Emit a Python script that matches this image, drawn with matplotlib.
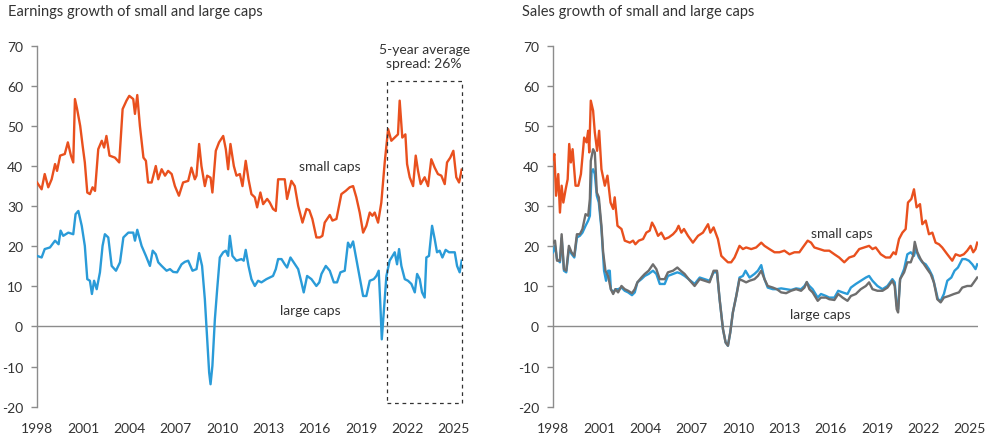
import matplotlib.pyplot as plt
import numpy as np

plt.rcParams['font.family'] = ['Lato', 'DejaVu Sans']
plt.rcParams['axes.unicode_minus'] = False

ORANGE = '#E9501E'
BLUE = '#2A9BD8'
GREY = '#6E6E6E'
TXT = '#333333'

# earnings growth (%)
earn_small_t = [1998.0, 1998.3, 1998.5, 1998.73, 1998.95, 1999.17, 1999.3, 1999.5, 1999.8, 2000.0,
                2000.2, 2000.35, 2000.46, 2000.6, 2000.8, 2000.96, 2001.1, 2001.26, 2001.43, 2001.6,
                2001.76, 2001.97, 2002.2, 2002.35, 2002.5, 2002.7, 2003.05, 2003.33, 2003.55, 2003.8,
                2003.98, 2004.24, 2004.35, 2004.5, 2004.67, 2004.9, 2005.06, 2005.2, 2005.43, 2005.7,
                2005.86, 2006.08, 2006.3, 2006.5, 2006.73, 2006.94, 2007.2, 2007.47, 2007.8, 2008.01,
                2008.23, 2008.34, 2008.51, 2008.66, 2008.88, 2009.03, 2009.25, 2009.37, 2009.59, 2009.8,
                2010.07, 2010.24, 2010.39, 2010.54, 2010.76, 2010.93, 2011.15, 2011.32, 2011.53, 2011.71,
                2011.9, 2012.12, 2012.27, 2012.48, 2012.66, 2012.92, 2013.09, 2013.3, 2013.48, 2013.63,
                2013.85, 2014.06, 2014.21, 2014.49, 2014.71, 2014.93, 2015.21, 2015.47, 2015.65, 2015.85,
                2016.11, 2016.33, 2016.5, 2016.65, 2016.98, 2017.15, 2017.41, 2017.73, 2018.01, 2018.27,
                2018.49, 2018.7, 2018.92, 2019.14, 2019.35, 2019.57, 2019.74, 2019.89, 2020.11, 2020.32,
                2020.54, 2020.76, 2020.97, 2021.19, 2021.4, 2021.51, 2021.68, 2021.88, 2021.99, 2022.16,
                2022.38, 2022.55, 2022.7, 2022.87, 2023.13, 2023.35, 2023.56, 2023.78, 2023.99, 2024.21,
                2024.43, 2024.58, 2024.79, 2024.99, 2025.18, 2025.36, 2025.53]
earn_small = [35.9, 34.2, 38.0, 34.7, 36.7, 40.5, 38.8, 42.6, 43.0, 45.9,
              42.6, 40.9, 56.7, 54.2, 50.0, 45.0, 40.9, 33.4, 33.0, 34.7,
              33.8, 44.2, 46.3, 44.6, 47.5, 42.6, 42.1, 40.9, 54.2, 56.3,
              57.5, 56.7, 53.0, 57.7, 50.0, 42.1, 41.3, 35.9, 35.9, 40.0,
              36.7, 39.2, 37.6, 38.8, 38.0, 35.0, 32.6, 35.9, 36.3, 39.6,
              36.7, 37.6, 45.5, 40.0, 35.0, 37.6, 37.1, 33.4, 43.8, 45.9,
              47.5, 44.2, 39.2, 45.5, 40.0, 37.6, 38.0, 35.0, 41.3, 36.7,
              33.0, 32.2, 29.7, 33.4, 30.5, 31.8, 30.9, 29.3, 28.8, 36.7,
              36.7, 36.7, 31.8, 36.3, 35.0, 30.1, 25.9, 29.3, 29.0, 26.8,
              22.2, 22.2, 22.6, 25.9, 27.8, 26.4, 26.8, 33.0, 33.8, 34.7,
              35.0, 32.2, 28.4, 23.4, 25.1, 28.4, 27.6, 28.4, 25.9, 30.9,
              40.9, 49.2, 46.3, 47.1, 47.9, 56.3, 47.1, 47.9, 40.5, 37.2,
              35.0, 42.6, 38.8, 35.5, 37.2, 35.0, 41.7, 39.6, 38.0, 37.6,
              35.5, 40.9, 42.1, 43.8, 37.2, 35.9, 39.1]

earn_large_t = [1998.0, 1998.3, 1998.5, 1998.84, 1999.17, 1999.4, 1999.53, 1999.7, 2000.03, 2000.35,
                2000.5, 2000.68, 2000.9, 2001.1, 2001.26, 2001.43, 2001.56, 2001.7, 2001.87, 2002.08,
                2002.25, 2002.4, 2002.62, 2002.84, 2003.12, 2003.38, 2003.6, 2003.92, 2004.24, 2004.35,
                2004.5, 2004.78, 2005.06, 2005.32, 2005.5, 2005.7, 2005.86, 2006.08, 2006.4, 2006.62,
                2006.83, 2007.08, 2007.37, 2007.58, 2007.8, 2008.08, 2008.34, 2008.51, 2008.7, 2008.88,
                2009.03, 2009.16, 2009.25, 2009.37, 2009.53, 2009.68, 2009.85, 2010.07, 2010.24, 2010.39,
                2010.5, 2010.67, 2010.93, 2011.25, 2011.4, 2011.53, 2011.71, 2011.9, 2012.12, 2012.33,
                2012.55, 2012.87, 2013.09, 2013.3, 2013.48, 2013.63, 2013.85, 2014.06, 2014.21, 2014.43,
                2014.64, 2014.93, 2015.14, 2015.29, 2015.51, 2015.79, 2016.11, 2016.3, 2016.44, 2016.72,
                2016.98, 2017.24, 2017.45, 2017.67, 2017.95, 2018.16, 2018.31, 2018.49, 2018.7, 2018.92,
                2019.14, 2019.35, 2019.57, 2019.83, 2020.0, 2020.15, 2020.26, 2020.35, 2020.48, 2020.65,
                2020.86, 2021.19, 2021.34, 2021.47, 2021.62, 2021.84, 2022.05, 2022.27, 2022.49, 2022.64,
                2022.81, 2022.96, 2023.13, 2023.24, 2023.41, 2023.61, 2023.78, 2023.93, 2024.1, 2024.28,
                2024.49, 2024.71, 2025.08, 2025.23, 2025.4, 2025.53]
earn_large = [17.6, 17.2, 19.3, 19.7, 21.4, 20.5, 23.9, 22.6, 23.4, 23.0,
              28.0, 28.8, 25.1, 20.1, 11.8, 11.4, 8.1, 11.4, 9.3, 13.5,
              20.1, 23.0, 22.2, 15.1, 13.9, 16.0, 22.2, 23.4, 23.4, 21.4,
              24.1, 20.1, 17.6, 15.1, 18.9, 18.0, 16.0, 15.1, 13.9, 14.3,
              13.6, 13.5, 15.5, 16.1, 16.4, 13.9, 14.3, 18.3, 15.1, 6.8,
              -3.2, -11.5, -14.4, -9.8, 1.8, 9.3, 17.2, 18.5, 18.9, 17.6,
              22.6, 17.6, 16.4, 16.8, 16.4, 19.1, 15.1, 11.8, 10.1, 11.4,
              11.0, 11.8, 12.2, 12.6, 14.3, 16.8, 16.8, 15.5, 14.7, 17.2,
              16.0, 14.3, 11.0, 8.5, 12.6, 11.8, 10.1, 11.0, 13.1, 15.1,
              13.9, 11.0, 11.0, 13.5, 13.9, 20.9, 19.7, 21.2, 16.8, 12.2,
              7.6, 7.6, 11.4, 11.8, 12.6, 13.9, 5.2, -3.2, 3.5, 12.6,
              16.4, 18.5, 15.5, 19.3, 15.1, 11.8, 11.4, 10.6, 8.5, 13.1,
              11.8, 8.5, 7.2, 17.2, 17.6, 25.1, 21.8, 18.5, 18.9, 17.2,
              19.1, 18.5, 18.5, 15.1, 13.5, 16.4]

# sales growth (%)
sales_small_t = [1998.0, 1998.09, 1998.2, 1998.34, 1998.45, 1998.56, 1998.67, 1998.82, 1998.95, 1999.05,
                 1999.16, 1999.27, 1999.46, 1999.64, 1999.81, 2000.02, 2000.17, 2000.28, 2000.35, 2000.45,
                 2000.6, 2000.71, 2000.86, 2000.99, 2001.14, 2001.36, 2001.53, 2001.73, 2001.9, 2002.0,
                 2002.18, 2002.44, 2002.65, 2002.98, 2003.19, 2003.34, 2003.56, 2003.84, 2004.05, 2004.27,
                 2004.42, 2004.59, 2004.81, 2005.02, 2005.24, 2005.5, 2005.78, 2005.99, 2006.14, 2006.32,
                 2006.49, 2006.75, 2007.07, 2007.4, 2007.72, 2008.05, 2008.2, 2008.41, 2008.69, 2008.91,
                 2009.12, 2009.34, 2009.55, 2009.77, 2010.09, 2010.31, 2010.52, 2010.85, 2011.17, 2011.5,
                 2011.71, 2012.03, 2012.36, 2012.68, 2013.0, 2013.33, 2013.65, 2013.97, 2014.19, 2014.51,
                 2014.73, 2014.94, 2015.27, 2015.59, 2015.91, 2016.24, 2016.55, 2016.88, 2017.2, 2017.52,
                 2017.85, 2018.17, 2018.49, 2018.71, 2018.92, 2019.25, 2019.57, 2019.85, 2020.07, 2020.22,
                 2020.43, 2020.65, 2020.86, 2021.01, 2021.23, 2021.4, 2021.57, 2021.79, 2021.94, 2022.16,
                 2022.37, 2022.59, 2022.8, 2023.02, 2023.23, 2023.56, 2023.88, 2024.1, 2024.38, 2024.63,
                 2024.85, 2025.07, 2025.24, 2025.39, 2025.5]
sales_small = [41.7, 43.0, 32.6, 38.0, 28.4, 35.1, 30.9, 34.2, 36.7, 45.5,
               40.9, 44.2, 35.1, 35.1, 38.0, 47.1, 45.9, 48.8, 43.4, 56.3,
               53.8, 48.4, 43.8, 48.8, 39.2, 35.1, 37.6, 30.9, 29.3, 32.2,
               25.1, 24.3, 21.4, 20.9, 21.4, 20.5, 21.4, 21.8, 23.4, 23.9,
               25.9, 24.7, 22.6, 23.4, 21.8, 22.2, 23.0, 23.9, 25.1, 23.4,
               24.3, 22.6, 20.9, 22.6, 23.4, 25.5, 23.4, 24.7, 21.8, 17.6,
               16.8, 16.0, 16.0, 17.2, 20.1, 19.3, 19.7, 19.3, 19.7, 20.9,
               20.1, 19.3, 18.5, 18.5, 18.9, 18.0, 18.5, 18.5, 19.7, 21.4,
               20.9, 19.7, 19.3, 18.9, 18.9, 18.0, 17.2, 16.0, 17.2, 17.6,
               19.3, 19.7, 20.1, 19.3, 19.7, 18.0, 17.2, 17.2, 18.5, 18.0,
               21.8, 23.4, 24.3, 30.9, 31.8, 34.2, 29.7, 30.5, 25.5, 26.4,
               23.0, 23.4, 20.9, 20.5, 19.7, 18.0, 16.4, 18.0, 17.6, 18.0,
               18.9, 20.1, 18.5, 19.3, 20.9]

sales_large_t = [1998.0, 1998.13, 1998.26, 1998.45, 1998.56, 1998.71, 1998.86, 1999.03, 1999.2, 1999.38,
                 1999.55, 1999.74, 1999.91, 2000.11, 2000.28, 2000.39, 2000.5, 2000.6, 2000.71, 2000.84,
                 2000.97, 2001.14, 2001.31, 2001.44, 2001.57, 2001.68, 2001.75, 2001.9, 2002.05, 2002.22,
                 2002.44, 2002.65, 2002.87, 2003.12, 2003.3, 2003.47, 2003.73, 2003.95, 2004.2, 2004.48,
                 2004.7, 2004.92, 2005.24, 2005.45, 2005.78, 2006.06, 2006.28, 2006.53, 2006.86, 2007.18,
                 2007.51, 2007.83, 2008.15, 2008.41, 2008.63, 2008.8, 2009.02, 2009.19, 2009.34, 2009.49,
                 2009.66, 2009.88, 2010.09, 2010.31, 2010.48, 2010.74, 2011.06, 2011.28, 2011.5, 2011.71,
                 2011.92, 2012.25, 2012.51, 2012.79, 2013.11, 2013.43, 2013.76, 2014.08, 2014.3, 2014.45,
                 2014.62, 2014.83, 2015.16, 2015.37, 2015.7, 2015.91, 2016.24, 2016.49, 2016.77, 2017.09,
                 2017.31, 2017.63, 2017.95, 2018.28, 2018.49, 2018.71, 2019.03, 2019.36, 2019.68, 2020.0,
                 2020.15, 2020.28, 2020.37, 2020.5, 2020.76, 2020.97, 2021.19, 2021.4, 2021.51, 2021.72,
                 2021.94, 2022.16, 2022.37, 2022.59, 2022.8, 2022.95, 2023.13, 2023.34, 2023.56, 2023.82,
                 2024.03, 2024.25, 2024.53, 2024.74, 2024.96, 2025.18, 2025.39, 2025.5]
sales_large = [18.5, 20.1, 16.8, 16.0, 22.0, 13.9, 13.5, 19.3, 18.1, 17.2,
               22.2, 22.6, 23.4, 25.1, 26.4, 27.6, 38.4, 39.2, 38.0, 32.6,
               30.9, 24.3, 13.9, 11.4, 13.9, 13.9, 9.3, 8.5, 9.3, 9.3,
               9.7, 8.9, 8.5, 7.8, 8.5, 11.0, 11.8, 12.6, 13.1, 13.9,
               13.1, 10.6, 10.6, 12.6, 13.1, 13.5, 13.2, 12.6, 11.6, 10.6,
               12.2, 11.8, 11.4, 13.5, 13.5, 6.8, -0.7, -4.0, -4.8, -1.5,
               3.5, 7.6, 12.2, 12.6, 13.9, 12.2, 13.1, 13.9, 15.3, 11.8,
               9.7, 9.3, 9.3, 9.5, 9.3, 9.1, 9.5, 9.3, 10.1, 11.0,
               10.1, 9.3, 7.2, 8.1, 7.6, 7.2, 7.2, 8.9, 8.5, 8.1,
               9.7, 10.6, 11.4, 12.2, 12.6, 11.4, 10.1, 9.3, 10.1, 11.8,
               11.0, 5.2, 4.3, 11.8, 14.3, 18.0, 18.5, 17.6, 19.3, 17.2,
               16.0, 15.5, 14.3, 12.6, 9.3, 6.8, 6.4, 8.1, 11.4, 12.2,
               13.9, 14.7, 16.8, 16.8, 16.4, 15.5, 14.3, 15.5]

sales_grey_t = [1998.0, 1998.13, 1998.26, 1998.45, 1998.56, 1998.71, 1998.86, 1999.03, 1999.2, 1999.38,
                1999.55, 1999.74, 1999.91, 2000.11, 2000.28, 2000.39, 2000.45, 2000.6, 2000.71, 2000.84,
                2000.97, 2001.14, 2001.25, 2001.4, 2001.57, 2001.75, 2001.9, 2002.05, 2002.22, 2002.44,
                2002.65, 2002.87, 2003.12, 2003.3, 2003.47, 2003.73, 2003.95, 2004.2, 2004.48, 2004.7,
                2004.92, 2005.24, 2005.45, 2005.78, 2006.06, 2006.28, 2006.53, 2006.86, 2007.18, 2007.51,
                2007.83, 2008.15, 2008.41, 2008.63, 2008.8, 2009.02, 2009.19, 2009.34, 2009.49, 2009.66,
                2009.88, 2010.09, 2010.31, 2010.52, 2010.74, 2011.06, 2011.28, 2011.5, 2011.71, 2011.92,
                2012.25, 2012.51, 2012.79, 2013.11, 2013.43, 2013.76, 2014.08, 2014.3, 2014.45, 2014.62,
                2014.83, 2015.16, 2015.37, 2015.7, 2015.91, 2016.24, 2016.49, 2016.77, 2017.09, 2017.31,
                2017.63, 2017.95, 2018.28, 2018.49, 2018.71, 2019.03, 2019.36, 2019.68, 2020.0, 2020.15,
                2020.28, 2020.37, 2020.5, 2020.76, 2020.97, 2021.19, 2021.34, 2021.45, 2021.62, 2021.83,
                2022.05, 2022.26, 2022.48, 2022.69, 2022.91, 2023.13, 2023.34, 2023.66, 2023.99, 2024.31,
                2024.53, 2024.85, 2025.11, 2025.28, 2025.5]
sales_grey = [20.9, 21.4, 16.4, 16.4, 23.0, 14.3, 13.9, 20.1, 18.5, 17.6,
              23.0, 23.0, 24.3, 28.0, 27.6, 31.8, 41.3, 44.2, 43.4, 33.4,
              32.2, 25.1, 18.5, 13.9, 12.6, 9.3, 8.1, 9.3, 8.5, 10.1,
              9.3, 8.9, 8.3, 9.3, 11.0, 12.2, 13.1, 13.9, 15.5, 14.3,
              11.8, 11.8, 13.5, 13.9, 14.7, 13.9, 13.1, 11.5, 10.1, 11.8,
              11.4, 11.0, 13.9, 13.9, 6.8, -0.7, -4.0, -4.8, -1.5, 3.5,
              7.6, 11.8, 11.4, 11.0, 11.4, 11.8, 12.6, 13.9, 11.8, 10.1,
              9.7, 9.3, 8.5, 8.3, 8.9, 9.3, 8.9, 9.7, 11.1, 9.3,
              8.5, 6.4, 7.2, 7.2, 6.8, 6.6, 8.1, 7.2, 6.4, 7.6,
              8.1, 9.3, 10.1, 11.0, 9.3, 8.9, 8.9, 9.7, 11.4, 10.1,
              4.3, 3.5, 11.8, 13.5, 16.0, 16.0, 17.6, 21.1, 18.5, 16.8,
              15.5, 14.3, 13.1, 11.0, 6.8, 6.0, 7.2, 7.6, 8.1, 8.5,
              9.7, 10.1, 10.1, 11.0, 12.2]

year_ticks = [1998, 2001, 2004, 2007, 2010, 2013, 2016, 2019, 2022, 2025]
y_ticks = [-20, -10, 0, 10, 20, 30, 40, 50, 60, 70]


def style_axis(ax):
    ax.set_xlim(1998, 2025.55)
    ax.set_ylim(-20, 70)
    for s in ['top', 'right', 'bottom']:
        ax.spines[s].set_visible(False)
    ax.spines['left'].set_color('#8c8c8c')
    ax.spines['left'].set_linewidth(1.0)
    ax.axhline(0, color='#8c8c8c', lw=1.0, zorder=1)
    ax.set_yticks(y_ticks)
    ax.set_xticks(year_ticks)
    ax.tick_params(axis='y', length=4, width=1, color='#8c8c8c', pad=6,
                   labelsize=10, labelcolor=TXT)
    ax.tick_params(axis='x', length=0, pad=11, labelsize=10, labelcolor=TXT)


fig = plt.figure(figsize=(10, 4.39), dpi=100)
ax1 = fig.add_axes([0.037, 0.0713, 0.425, 0.8223])
ax2 = fig.add_axes([0.553, 0.0713, 0.425, 0.8223])

# left: earnings
style_axis(ax1)
ax1.plot(earn_small_t, earn_small, color=ORANGE, lw=1.7, zorder=3)
ax1.plot(earn_large_t, earn_large, color=BLUE, lw=1.7, zorder=3)
ax1.add_patch(plt.Rectangle((2020.69, -19.2), 4.88, 80.5, fill=False, clip_on=False,
                            ls=(0, (3, 3)), lw=0.9, ec='#333333', zorder=4))
ax1.text(2023.1, 67.4, '5-year average\nspread: 26%', ha='center', va='center',
         fontsize=10, color=TXT, linespacing=1.25)
ax1.text(2017.0, 40, 'small caps', ha='center', va='center', fontsize=10, color=TXT)
ax1.text(2015.7, 4, 'large caps', ha='center', va='center', fontsize=10, color=TXT)
fig.text(0.008, 0.972, 'Earnings growth of small and large caps', ha='left', va='center',
         fontsize=10.5, color=TXT)

# right: sales
style_axis(ax2)
ax2.plot(sales_large_t, sales_large, color=BLUE, lw=1.7, zorder=3)
ax2.plot(sales_grey_t, sales_grey, color=GREY, lw=1.7, zorder=3)
ax2.plot(sales_small_t, sales_small, color=ORANGE, lw=1.7, zorder=3)
ax2.text(2016.7, 23.2, 'small caps', ha='center', va='center', fontsize=10, color=TXT)
ax2.text(2015.3, 3, 'large caps', ha='center', va='center', fontsize=10, color=TXT)
fig.text(0.522, 0.972, 'Sales growth of small and large caps', ha='left', va='center',
         fontsize=10.5, color=TXT)

fig.savefig('out.png', dpi=100)
